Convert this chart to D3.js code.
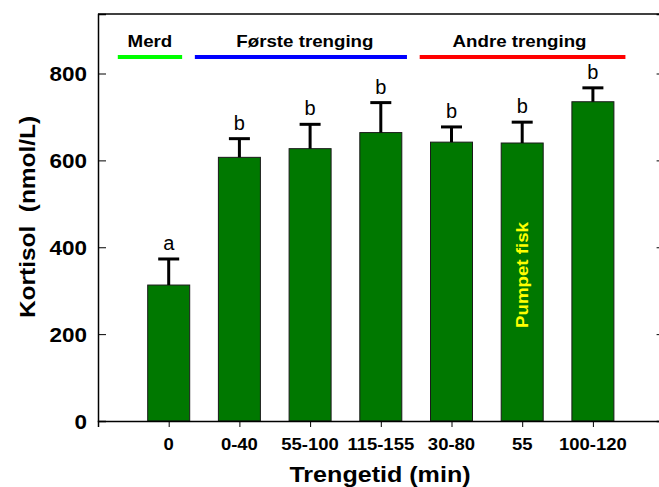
<!DOCTYPE html>
<html>
<head>
<meta charset="utf-8">
<script src="https://cdn.jsdelivr.net/npm/d3@7"></script>
<style>
  body { margin: 0; background: #fff; }
  text { font-family: "Liberation Sans", Arial, sans-serif; }
</style>
</head>
<body>
<div id="chart"></div>
<script>
var width = 659;
var height = 487;

// data
var categories = ["0", "0-40", "55-100", "115-155", "30-80", "55", "100-120"];
var means = [313, 607, 627, 664, 642, 640, 735];
var upper = [373, 650, 683, 733, 677, 688, 767];
var letters = ["a", "b", "b", "b", "b", "b", "b"];
var yTicks = [0, 200, 400, 600, 800];

var groupNames = ["Merd", "Første trenging", "Andre trenging"];
var groupColors = ["#00ff00", "#0000ff", "#ff0000"];
var groupStart = [0.28, 1.37, 4.55];
var groupEnd = [1.19, 4.37, 7.46];

var svg = d3.select("#chart")
    .append("svg")
    .attr("width", width)
    .attr("height", height);

// the original fonts are a bit wider than Liberation Sans
function stretch(sel, k) {
  sel.each(function(){
    var len = this.getComputedTextLength();
    d3.select(this)
      .attr("textLength", len * k)
      .attr("lengthAdjust", "spacingAndGlyphs");
  });
}

var x = d3.scaleLinear()
    .domain([0, 8])
    .range([98, 663.6]);

var y = d3.scaleLinear()
    .domain([0, 937])
    .range([421, 14]);

var barW = 42;

// bars
svg.selectAll("rect.bar")
    .data(means)
    .enter()
    .append("rect")
    .attr("class", "bar")
    .attr("x", function(d, i){ return x(i + 1) - barW / 2; })
    .attr("y", function(d){ return y(d); })
    .attr("width", barW)
    .attr("height", function(d){ return y(0) - y(d); })
    .attr("fill", "#007800")
    .attr("stroke", "#1a1a1a")
    .attr("stroke-width", 1);

// error bars
var err = svg.append("g")
    .attr("stroke", "#000")
    .attr("stroke-width", 3);

err.selectAll("line.stem")
    .data(upper)
    .enter()
    .append("line")
    .attr("x1", function(d, i){ return x(i + 1); })
    .attr("x2", function(d, i){ return x(i + 1); })
    .attr("y1", function(d, i){ return y(means[i]); })
    .attr("y2", function(d){ return y(d); });

err.selectAll("line.cap")
    .data(upper)
    .enter()
    .append("line")
    .attr("x1", function(d, i){ return x(i + 1) - 10.5; })
    .attr("x2", function(d, i){ return x(i + 1) + 10.5; })
    .attr("y1", function(d){ return y(d); })
    .attr("y2", function(d){ return y(d); });

// significance letters
svg.selectAll("text.letter")
    .data(letters)
    .enter()
    .append("text")
    .attr("x", function(d, i){ return x(i + 1); })
    .attr("y", function(d, i){ return y(upper[i]) - 9; })
    .attr("text-anchor", "middle")
    .attr("font-size", 20)
    .text(function(d){ return d; });

// axes
var yAxis = svg.append("g")
    .attr("transform", "translate(" + x(0) + ",0)")
    .call(d3.axisRight(y).tickValues(yTicks).tickSize(8).tickFormat(""));

var yRight = svg.append("g")
    .attr("transform", "translate(" + x(8) + ",0)")
    .call(d3.axisLeft(y).tickValues(yTicks).tickSize(7).tickFormat(""));

var xAxis = svg.append("g")
    .attr("transform", "translate(0," + y(0) + ")")
    .call(d3.axisBottom(x).tickValues(d3.range(1, 8)).tickSize(6).tickFormat(""));

[yAxis, yRight, xAxis].forEach(function(a){
  a.select(".domain").attr("stroke", "#000").attr("stroke-width", 1.5);
  a.selectAll(".tick line").attr("stroke", "#000").attr("stroke-width", 1);
});

// top frame
svg.append("line")
    .attr("x1", x(0))
    .attr("x2", x(8))
    .attr("y1", y(937))
    .attr("y2", y(937))
    .attr("stroke", "#000")
    .attr("stroke-width", 1.5);

// y tick labels
svg.selectAll("text.ylab")
    .data(yTicks)
    .enter()
    .append("text")
    .attr("x", 87)
    .attr("y", function(d){ return y(d) + 7.5; })
    .attr("text-anchor", "end")
    .attr("font-size", 21)
    .attr("font-weight", "bold")
    .text(function(d){ return d; })
    .call(stretch, 1.07);

// x tick labels
svg.selectAll("text.xlab")
    .data(categories)
    .enter()
    .append("text")
    .attr("x", function(d, i){ return x(i + 1); })
    .attr("y", 450)
    .attr("text-anchor", "middle")
    .attr("font-size", 16.5)
    .attr("font-weight", "bold")
    .text(function(d){ return d; })
    .call(stretch, 1.12);

// axis titles
svg.append("text")
    .attr("x", 380)
    .attr("y", 482)
    .attr("text-anchor", "middle")
    .attr("font-size", 22)
    .attr("font-weight", "bold")
    .text("Trengetid (min)")
    .call(stretch, 1.14);

svg.append("text")
    .attr("transform", "translate(35,217) rotate(-90)")
    .attr("text-anchor", "middle")
    .attr("font-size", 22)
    .attr("font-weight", "bold")
    .attr("xml:space", "preserve")
    .style("white-space", "pre")
    .text("Kortisol  (nmol/L)")
    .call(stretch, 1.11);

// group lines and labels
svg.selectAll("line.group")
    .data(groupNames)
    .enter()
    .append("line")
    .attr("x1", function(d, i){ return x(groupStart[i]); })
    .attr("x2", function(d, i){ return x(groupEnd[i]); })
    .attr("y1", 57)
    .attr("y2", 57)
    .attr("stroke", function(d, i){ return groupColors[i]; })
    .attr("stroke-width", 4);

svg.selectAll("text.group")
    .data(groupNames)
    .enter()
    .append("text")
    .attr("x", function(d, i){ return (x(groupStart[i]) + x(groupEnd[i])) / 2 + (i == 1 ? 4 : (i == 2 ? -3 : 0)); })
    .attr("y", 47)
    .attr("text-anchor", "middle")
    .attr("font-size", 17)
    .attr("font-weight", "bold")
    .text(function(d){ return d; })
    .call(stretch, 1.1);

// note inside the "55" bar
svg.append("text")
    .attr("transform", "translate(" + (x(6) + 6) + ",275) rotate(-90)")
    .attr("text-anchor", "middle")
    .attr("font-size", 17)
    .attr("font-weight", "bold")
    .attr("fill", "#ffff00")
    .text("Pumpet fisk")
    .call(stretch, 1.1);
</script>
</body>
</html>
